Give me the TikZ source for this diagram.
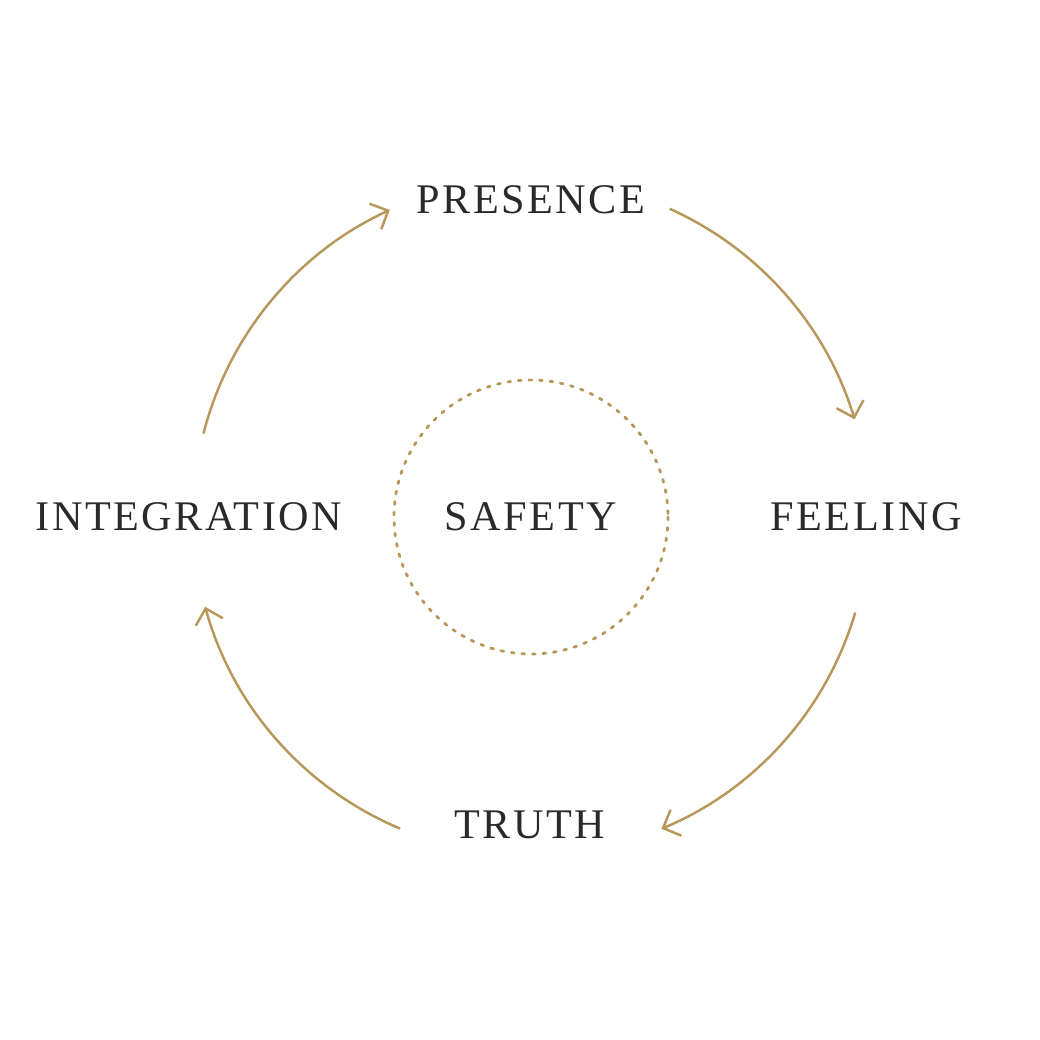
\documentclass[tikz,border=0pt]{standalone}
\usepackage{fontspec}
\setmainfont[LetterSpace=6]{Liberation Serif}
\usetikzlibrary{arrows.meta}
\definecolor{gold}{HTML}{B8975A}
\definecolor{ink}{HTML}{2A2A2A}
\begin{document}
\begin{tikzpicture}[x=0.01cm,y=-0.01cm,
  lbl/.style={text=ink,font=\fontsize{12}{14}\selectfont},
  arc/.style={draw=gold,line width=0.7pt,-{Straight Barb[length=4pt,width=8pt]}}]
\useasboundingbox (0,0) rectangle (1040,1040);
\coordinate (c) at (531,517);
\node[lbl] (safety) at (531,517) {SAFETY};
\node[lbl] (presence) at (531,200) {PRESENCE};
\node[lbl] (feeling) at (866,517) {FEELING};
\node[lbl] (truth) at (530,825) {TRUTH};
\node[lbl] (integration) at (189,517) {INTEGRATION};
\draw[gold,line width=0.8pt,dash pattern=on 0.8pt off 2.2pt,line cap=round] (c) circle[radius=137];
\draw[arc] ([shift={(-65.8:338)}]c) arc[start angle=-65.8,end angle=-16.8,radius=338];
\draw[arc] ([shift={(16.4:338)}]c) arc[start angle=16.4,end angle=67.3,radius=338];
\draw[arc] ([shift={(112.8:338)}]c) arc[start angle=112.8,end angle=164.6,radius=338];
\draw[arc] ([shift={(194.3:338)}]c) arc[start angle=194.3,end angle=245.3,radius=338];
\end{tikzpicture}
\end{document}
